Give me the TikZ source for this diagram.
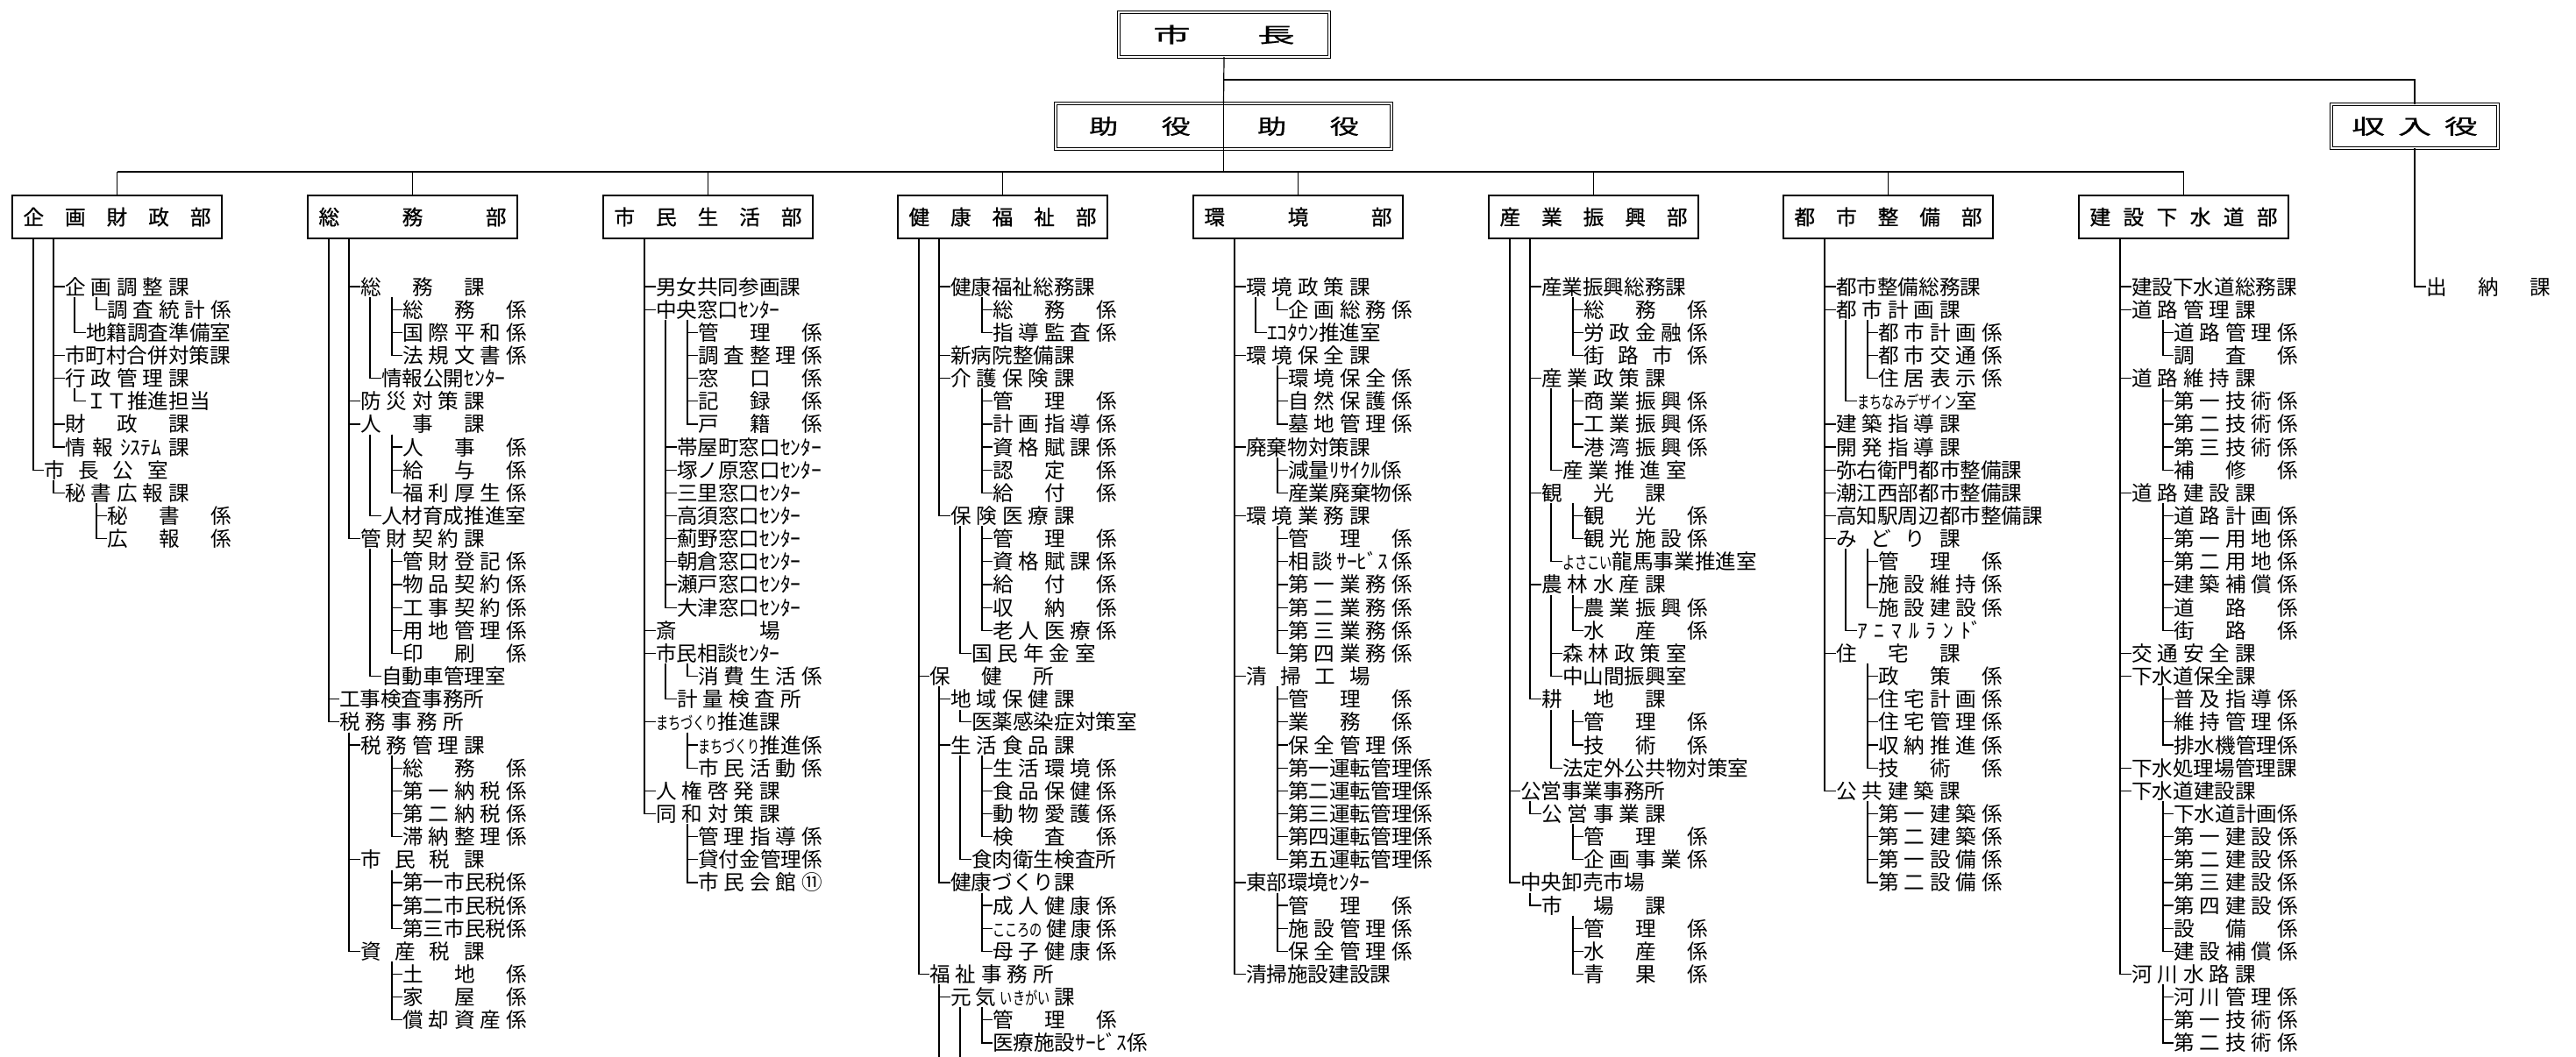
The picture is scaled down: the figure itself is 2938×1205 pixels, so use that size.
\documentclass[tikz,border=0pt]{standalone}
\usepackage{fontspec}
\usepackage{graphicx}
\newfontfamily\jp{Noto Sans CJK JP}
\newfontfamily\jpb[FakeBold=0.8]{Noto Sans CJK JP}
\makeatletter
\newcommand\spr[2][142pt]{\makebox[#1][s]{\let\sp@sep\relax\@tfor\sp@c:=#2\do{\sp@sep\sp@c\let\sp@sep\hfill}}}
\makeatother
\newcommand\hw[1]{\scalebox{0.6}[0.85]{#1}}
\newcount\nidx
\newcommand\newnm{\global\advance\nidx by 1\relax\edef\nm{n\the\nidx}}
\newcommand\rowy[1]{\pgfmathsetmacro\yy{327+(#1-1)*26.15}}
\newcommand\dept[2]{\gdef\cL{#1}\gdef\pZ{}\newnm\global\let\dN\nm
  \pgfmathsetmacro\xx{#1+120.5}
  \node[deptbox] (\nm) at (\xx,247.5) {\spr[214pt]{#2}};
  \draw[con] (\nm.north) -- (\nm.north |- busL);}
\newcommand\Lz[2]{\newnm\rowy{#1}\pgfmathsetmacro\xx{\cL+37}
  \node[lbl] (\nm) at (\xx,\yy) {\spr{#2}};
  \draw[con] ([xshift=24pt]\dN.south west) |- (\nm.west);
  \global\let\pZ\nm}
\newcommand\Lo[2]{\newnm\rowy{#1}\pgfmathsetmacro\xx{\cL+61}
  \node[lbl] (\nm) at (\xx,\yy) {\spr{#2}};
  \ifx\pZ\empty\draw[con] ([xshift=47pt]\dN.south west) |- (\nm.west);
  \else\draw[con] ([xshift=11pt]\pZ.south west) |- (\nm.west);\fi
  \global\let\pO\nm}
\newcommand\Lt[2]{\newnm\rowy{#1}\pgfmathsetmacro\xx{\cL+85}
  \node[lbl] (\nm) at (\xx,\yy) {\spr{#2}};
  \draw[con] ([xshift=11pt]\pO.south west) |- (\nm.west);}
\newcommand\Lh[2]{\newnm\rowy{#1}\pgfmathsetmacro\xx{\cL+109}
  \node[lbl] (\nm) at (\xx,\yy) {\spr{#2}};
  \draw[con] ([xshift=36pt]\pO.south west) |- (\nm.west);}
\tikzset{
  con/.style={draw=black, line width=1.2pt},
  jpf/.style={font=\jp\fontsize{23.6pt}{24pt}\selectfont, text height=20.8pt, text depth=2.8pt, inner sep=0pt, outer sep=0pt},
  jpbf/.style={jpf, font=\jpb\fontsize{23.6pt}{24pt}\selectfont},
  lbl/.style={jpf, anchor=west},
  deptbox/.style={jpbf, draw=black, line width=2.4pt, minimum width=239pt, minimum height=49pt},
  topbox/.style={jpbf, draw=black, double=white, double distance=2.2pt, line width=0.9pt},
}
\begin{document}
\begin{tikzpicture}[x=1pt,y=-1pt]
\useasboundingbox (0,0) rectangle (2938,1205);
\fill[white] (0,0) rectangle (2938,1205);
\clip (0,0) rectangle (2938,1205);
% top
\coordinate (busL) at (133.5,196);
\coordinate (busR) at (2490.5,196);
\coordinate (j1) at (1396,91);
\node[topbox, minimum width=240pt, minimum height=51pt] (mayor) at (1396,39.5) {\scalebox{1.8}[1]{市\hspace{1.8em}長}};
\node[topbox, minimum width=383pt, minimum height=52pt] (deputy) at (1395.5,144) {};
\node[jpbf] (dep1) at (1300,144) {\scalebox{1.4}[1]{助\hspace{1.5em}役}};
\node[jpbf] (dep2) at (1492,144) {\scalebox{1.4}[1]{助\hspace{1.5em}役}};
\node[topbox, minimum width=190pt, minimum height=50pt] (treas) at (2754,144) {\scalebox{1.6}[1]{収\hspace{0.4em}入\hspace{0.4em}役}};
\draw[con] (mayor.south) -- (deputy.north);
\draw[con] (deputy.north) -- (deputy.south);
\draw[con] (deputy.south) -- (deputy.south |- busL);
\draw[con] (j1) -| (treas.north);
\draw[con] (busL) -- (busR);
\node[lbl] (suitou) at (2767,327) {\spr{出納課}};
\draw[con] (treas.south) |- (suitou.west);
% col 1
\dept{13}{企画財政部}
\Lo{1}{企画調整課}
\Lh{2}{調査統計係}
\Lt{3}{地籍調査準備室}
\Lo{4}{市町村合併対策課}
\Lo{5}{行政管理課}
\Lt{6}{{ＩＴ推進担当}}
\Lo{7}{財政課}
\Lo{8}{情報{ｼｽﾃﾑ}課}
\Lz{9}{市長公室}
\Lo{10}{秘書広報課}
\Lh{11}{秘書係}
\Lh{12}{広報係}
% col 2
\dept{350}{総務部}
\Lo{1}{総務課}
\Lh{2}{総務係}
\Lh{3}{国際平和係}
\Lh{4}{法規文書係}
\Lt{5}{{情報公開ｾﾝﾀｰ}}
\Lo{6}{防災対策課}
\Lo{7}{人事課}
\Lh{8}{人事係}
\Lh{9}{給与係}
\Lh{10}{福利厚生係}
\Lt{11}{人材育成推進室}
\Lo{12}{管財契約課}
\Lh{13}{管財登記係}
\Lh{14}{物品契約係}
\Lh{15}{工事契約係}
\Lh{16}{用地管理係}
\Lh{17}{印刷係}
\Lt{18}{自動車管理室}
\Lz{19}{工事検査事務所}
\Lz{20}{税務事務所}
\Lo{21}{税務管理課}
\Lh{22}{総務係}
\Lh{23}{第一納税係}
\Lh{24}{第二納税係}
\Lh{25}{滞納整理係}
\Lo{26}{市民税課}
\Lh{27}{第一市民税係}
\Lh{28}{第二市民税係}
\Lh{29}{第三市民税係}
\Lo{30}{資産税課}
\Lh{31}{土地係}
\Lh{32}{家屋係}
\Lh{33}{償却資産係}
% col 3
\dept{687}{市民生活部}
\Lo{1}{男女共同参画課}
\Lo{2}{{中央窓口ｾﾝﾀｰ}}
\Lh{3}{管理係}
\Lh{4}{調査整理係}
\Lh{5}{窓口係}
\Lh{6}{記録係}
\Lh{7}{戸籍係}
\Lt{8}{{帯屋町窓口ｾﾝﾀｰ}}
\Lt{9}{{塚ノ原窓口ｾﾝﾀｰ}}
\Lt{10}{{三里窓口ｾﾝﾀｰ}}
\Lt{11}{{高須窓口ｾﾝﾀｰ}}
\Lt{12}{{薊野窓口ｾﾝﾀｰ}}
\Lt{13}{{朝倉窓口ｾﾝﾀｰ}}
\Lt{14}{{瀬戸窓口ｾﾝﾀｰ}}
\Lt{15}{{大津窓口ｾﾝﾀｰ}}
\Lo{16}{斎場}
\Lo{17}{{市民相談ｾﾝﾀｰ}}
\Lh{18}{消費生活係}
\Lt{19}{計量検査所}
\Lo{20}{{\hw{まちづくり}推進課}}
\Lh{21}{{\hw{まちづくり}推進係}}
\Lh{22}{市民活動係}
\Lo{23}{人権啓発課}
\Lo{24}{同和対策課}
\Lh{25}{管理指導係}
\Lh{26}{貸付金管理係}
\Lh{27}{市民会館⑪}
% col 4
\dept{1023}{健康福祉部}
\Lo{1}{健康福祉総務課}
\Lh{2}{総務係}
\Lh{3}{指導監査係}
\Lo{4}{新病院整備課}
\Lo{5}{介護保険課}
\Lh{6}{管理係}
\Lh{7}{計画指導係}
\Lh{8}{資格賦課係}
\Lh{9}{認定係}
\Lh{10}{給付係}
\Lo{11}{保険医療課}
\Lh{12}{管理係}
\Lh{13}{資格賦課係}
\Lh{14}{給付係}
\Lh{15}{収納係}
\Lh{16}{老人医療係}
\Lt{17}{国民年金室}
\Lz{18}{保健所}
\Lo{19}{地域保健課}
\Lt{20}{医薬感染症対策室}
\Lo{21}{生活食品課}
\Lh{22}{生活環境係}
\Lh{23}{食品保健係}
\Lh{24}{動物愛護係}
\Lh{25}{検査係}
\Lt{26}{食肉衛生検査所}
\Lo{27}{健康づくり課}
\Lh{28}{成人健康係}
\Lh{29}{{\hw{こころの}}健康係}
\Lh{30}{母子健康係}
\Lz{31}{福祉事務所}
\Lo{32}{元気{\hw{いきがい}}課}
\Lh{33}{管理係}
\Lh{34}{医療施設ｻｰﾋﾞｽ係}
\draw[con] ([xshift=11pt]\pZ.south west) -- ++(0,150);
\draw[con] ([xshift=11pt]\pO.south west) -- ++(0,120);
% col 5
\dept{1360}{環境部}
\Lo{1}{環境政策課}
\Lh{2}{企画総務係}
\Lt{3}{{ｴｺﾀｳﾝ推進室}}
\Lo{4}{環境保全課}
\Lh{5}{環境保全係}
\Lh{6}{自然保護係}
\Lh{7}{墓地管理係}
\Lo{8}{廃棄物対策課}
\Lh{9}{{減量ﾘｻｲｸﾙ係}}
\Lh{10}{産業廃棄物係}
\Lo{11}{環境業務課}
\Lh{12}{管理係}
\Lh{13}{相談{ｻｰﾋﾞｽ}係}
\Lh{14}{第一業務係}
\Lh{15}{第二業務係}
\Lh{16}{第三業務係}
\Lh{17}{第四業務係}
\Lo{18}{清掃工場}
\Lh{19}{管理係}
\Lh{20}{業務係}
\Lh{21}{保全管理係}
\Lh{22}{第一運転管理係}
\Lh{23}{第二運転管理係}
\Lh{24}{第三運転管理係}
\Lh{25}{第四運転管理係}
\Lh{26}{第五運転管理係}
\Lo{27}{{東部環境ｾﾝﾀｰ}}
\Lh{28}{管理係}
\Lh{29}{施設管理係}
\Lh{30}{保全管理係}
\Lo{31}{清掃施設建設課}
% col 6
\dept{1697}{産業振興部}
\Lo{1}{産業振興総務課}
\Lh{2}{総務係}
\Lh{3}{労政金融係}
\Lh{4}{街路市係}
\Lo{5}{産業政策課}
\Lh{6}{商業振興係}
\Lh{7}{工業振興係}
\Lh{8}{港湾振興係}
\Lt{9}{産業推進室}
\Lo{10}{観光課}
\Lh{11}{観光係}
\Lh{12}{観光施設係}
\Lt{13}{{\hw{よさこい}龍馬事業推進室}}
\Lo{14}{農林水産課}
\Lh{15}{農業振興係}
\Lh{16}{水産係}
\Lt{17}{森林政策室}
\Lt{18}{{中山間振興室}}
\Lo{19}{耕地課}
\Lh{20}{管理係}
\Lh{21}{技術係}
\Lt{22}{法定外公共物対策室}
\Lz{23}{公営事業事務所}
\Lo{24}{公営事業課}
\Lh{25}{管理係}
\Lh{26}{企画事業係}
\Lz{27}{中央卸売市場}
\Lo{28}{市場課}
\Lh{29}{管理係}
\Lh{30}{水産係}
\Lh{31}{青果係}
% col 7
\dept{2033}{都市整備部}
\Lo{1}{都市整備総務課}
\Lo{2}{都市計画課}
\Lh{3}{都市計画係}
\Lh{4}{都市交通係}
\Lh{5}{住居表示係}
\Lt{6}{{\hw{まちなみデザイン}室}}
\Lo{7}{建築指導課}
\Lo{8}{開発指導課}
\Lo{9}{弥右衛門都市整備課}
\Lo{10}{潮江西部都市整備課}
\Lo{11}{高知駅周辺都市整備課}
\Lo{12}{みどり課}
\Lh{13}{管理係}
\Lh{14}{施設維持係}
\Lh{15}{施設建設係}
\Lt{16}{ｱﾆﾏﾙﾗﾝ{ﾄﾞ}}
\Lo{17}{住宅課}
\Lh{18}{政策係}
\Lh{19}{住宅計画係}
\Lh{20}{住宅管理係}
\Lh{21}{収納推進係}
\Lh{22}{技術係}
\Lo{23}{公共建築課}
\Lh{24}{第一建築係}
\Lh{25}{第二建築係}
\Lh{26}{第一設備係}
\Lh{27}{第二設備係}
% col 8
\dept{2370}{建設下水道部}
\Lo{1}{建設下水道総務課}
\Lo{2}{道路管理課}
\Lh{3}{道路管理係}
\Lh{4}{調査係}
\Lo{5}{道路維持課}
\Lh{6}{第一技術係}
\Lh{7}{第二技術係}
\Lh{8}{第三技術係}
\Lh{9}{補修係}
\Lo{10}{道路建設課}
\Lh{11}{道路計画係}
\Lh{12}{第一用地係}
\Lh{13}{第二用地係}
\Lh{14}{建築補償係}
\Lh{15}{道路係}
\Lh{16}{街路係}
\Lo{17}{交通安全課}
\Lo{18}{下水道保全課}
\Lh{19}{普及指導係}
\Lh{20}{維持管理係}
\Lh{21}{排水機管理係}
\Lo{22}{下水処理場管理課}
\Lo{23}{下水道建設課}
\Lh{24}{下水道計画係}
\Lh{25}{第一建設係}
\Lh{26}{第二建設係}
\Lh{27}{第三建設係}
\Lh{28}{第四建設係}
\Lh{29}{設備係}
\Lh{30}{建設補償係}
\Lo{31}{河川水路課}
\Lh{32}{河川管理係}
\Lh{33}{第一技術係}
\Lh{34}{第二技術係}
\end{tikzpicture}
\end{document}
